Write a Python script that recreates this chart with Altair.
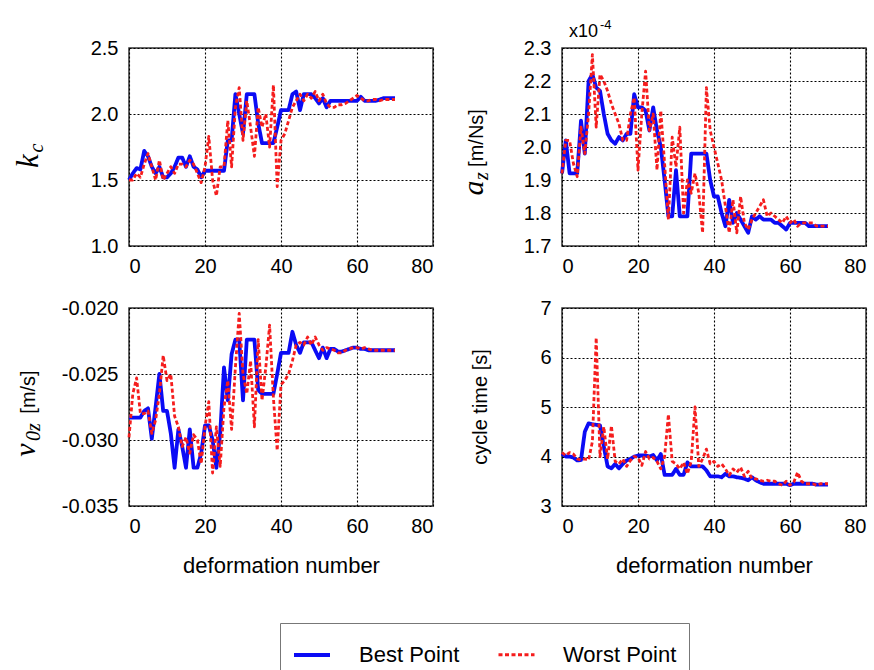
import altair as alt
import pandas as pd

# ---------------- data ----------------
N = list(range(71))
SERIES = ["Best Point", "Worst Point"]
COLORS = ["#0b0bf5", "#f51d1d"]

KC_BEST = [1.50, 1.55, 1.59, 1.58, 1.72, 1.68, 1.60, 1.55, 1.60, 1.52,
           1.52, 1.55, 1.60, 1.67, 1.67, 1.60, 1.68, 1.60, 1.58, 1.52,
           1.57, 1.57, 1.57, 1.57, 1.57, 1.57, 1.80, 1.80, 2.15, 2.00,
           1.85, 2.15, 2.15, 2.15, 1.93, 1.78, 1.78, 1.78, 1.78, 1.90,
           2.03, 2.03, 2.03, 2.15, 2.17, 2.03, 2.15, 2.15, 2.15, 2.12,
           2.08, 2.12, 2.05, 2.10, 2.10, 2.10, 2.10, 2.10, 2.10, 2.10,
           2.10, 2.13, 2.10, 2.10, 2.10, 2.10, 2.11, 2.12, 2.12, 2.12, 2.12]
KC_WORST = [1.50, 1.50, 1.55, 1.52, 1.62, 1.70, 1.60, 1.50, 1.65, 1.50,
            1.55, 1.60, 1.55, 1.62, 1.62, 1.60, 1.65, 1.62, 1.55, 1.48,
            1.60, 1.83, 1.50, 1.38, 1.60, 1.60, 1.95, 1.60, 2.05, 2.20,
            1.80, 2.10, 1.90, 1.68, 2.05, 1.90, 2.00, 1.75, 2.22, 1.45,
            1.80, 1.85, 1.95, 2.05, 2.10, 2.15, 2.10, 2.15, 2.12, 2.17,
            2.10, 2.15, 2.08, 2.05, 2.05, 2.07, 2.07, 2.08, 2.10, 2.12,
            2.14, 2.12, 2.10, 2.10, 2.11, 2.11, 2.10, 2.11, 2.11, 2.11, 2.11]

AZ_BEST = [1.92, 2.02, 1.92, 1.92, 1.92, 2.08, 1.98, 2.20, 2.22, 2.18,
           2.17, 2.10, 2.04, 2.02, 2.01, 2.03, 2.02, 2.04, 2.04, 2.16,
           2.12, 2.12, 2.11, 2.05, 2.12, 2.05, 2.00, 1.90, 1.79, 1.79,
           1.93, 1.79, 1.79, 1.79, 1.98, 1.98, 1.98, 1.98, 1.98, 1.90,
           1.85, 1.85, 1.80, 1.76, 1.84, 1.77, 1.80, 1.78, 1.76, 1.74,
           1.79, 1.78, 1.79, 1.78, 1.78, 1.78, 1.77, 1.77, 1.76, 1.75,
           1.77, 1.77, 1.77, 1.77, 1.77, 1.76, 1.76, 1.76, 1.76, 1.76, 1.76]
AZ_WORST = [1.92, 2.02, 2.02, 1.95, 1.91, 2.06, 1.98, 2.10, 2.28, 2.06,
            2.22, 2.20, 2.17, 2.13, 2.10, 2.07, 2.02, 2.02, 2.10, 2.15,
            1.93, 2.10, 2.23, 2.05, 2.10, 1.93, 2.11, 1.95, 1.78, 2.03,
            1.94, 2.06, 1.80, 1.90, 1.86, 1.92, 1.86, 1.74, 2.18, 2.05,
            2.00, 1.95, 1.90, 1.82, 1.74, 1.84, 1.74, 1.85, 1.77, 1.75,
            1.78, 1.80, 1.82, 1.84, 1.79, 1.80, 1.79, 1.78, 1.77, 1.79,
            1.77, 1.78, 1.76, 1.77, 1.77, 1.77, 1.77, 1.76, 1.76, 1.76, 1.76]

V0Z_BEST = [-0.0283, -0.0283, -0.0283, -0.0283, -0.0278, -0.0276, -0.0299, -0.0275, -0.0250, -0.0278,
            -0.0278, -0.0295, -0.0321, -0.0292, -0.0305, -0.0321, -0.0292, -0.0321, -0.0321, -0.0310,
            -0.0289, -0.0289, -0.0300, -0.0321, -0.0295, -0.0245, -0.0270, -0.0235, -0.0224, -0.0224,
            -0.0270, -0.0224, -0.0224, -0.0224, -0.0262, -0.0265, -0.0265, -0.0265, -0.0265, -0.0250,
            -0.0234, -0.0234, -0.0234, -0.0218, -0.0228, -0.0234, -0.0226, -0.0226, -0.0226, -0.0232,
            -0.0238, -0.0230, -0.0238, -0.0231, -0.0231, -0.0233, -0.0233, -0.0232, -0.0231, -0.0230,
            -0.0230, -0.0231, -0.0231, -0.0232, -0.0232, -0.0232, -0.0232, -0.0232, -0.0232, -0.0232, -0.0232]
V0Z_WORST = [-0.0298, -0.0265, -0.0253, -0.0280, -0.0280, -0.0278, -0.0295, -0.0285, -0.0265, -0.0236,
             -0.0255, -0.0250, -0.0282, -0.0290, -0.0305, -0.0298, -0.0310, -0.0296, -0.0300, -0.0318,
             -0.0290, -0.0271, -0.0325, -0.0290, -0.0320, -0.0275, -0.0255, -0.0292, -0.0245, -0.0204,
             -0.0250, -0.0265, -0.0240, -0.0290, -0.0224, -0.0270, -0.0245, -0.0213, -0.0268, -0.0308,
             -0.0258, -0.0255, -0.0250, -0.0240, -0.0228, -0.0226, -0.0228, -0.0222, -0.0228, -0.0222,
             -0.0228, -0.0232, -0.0230, -0.0231, -0.0232, -0.0234, -0.0234, -0.0232, -0.0231, -0.0230,
             -0.0230, -0.0231, -0.0230, -0.0231, -0.0232, -0.0232, -0.0232, -0.0232, -0.0232, -0.0232, -0.0232]

CT_BEST = [4.06, 4.00, 4.00, 3.98, 3.92, 3.93, 4.50, 4.67, 4.65, 4.64,
           4.63, 4.20, 3.80, 3.76, 3.85, 3.76, 3.85, 3.92, 3.95, 4.00,
           4.02, 4.02, 4.02, 4.00, 4.03, 3.92, 4.05, 3.63, 3.63, 3.63,
           3.75, 3.63, 3.63, 3.88, 3.80, 3.80, 3.80, 3.80, 3.72, 3.60,
           3.60, 3.60, 3.58, 3.65, 3.60, 3.60, 3.58, 3.57, 3.55, 3.52,
           3.58, 3.52, 3.48, 3.45, 3.45, 3.45, 3.45, 3.45, 3.45, 3.45,
           3.42, 3.45, 3.45, 3.45, 3.45, 3.45, 3.45, 3.43, 3.43, 3.43, 3.43]
CT_WORST = [4.08, 4.02, 4.08, 4.05, 3.95, 3.93, 3.95, 3.93, 4.30, 6.40,
            4.00, 4.60, 3.95, 4.62, 3.90, 3.85, 3.95, 3.80, 3.92, 4.00,
            3.98, 3.82, 4.10, 3.95, 3.98, 3.90, 3.75, 4.00, 4.85, 3.90,
            3.85, 3.75, 3.88, 3.65, 3.90, 5.00, 3.80, 3.95, 4.15, 3.85,
            3.90, 3.80, 3.85, 3.75, 3.62, 3.75, 3.68, 3.78, 3.60, 3.70,
            3.55, 3.55, 3.52, 3.50, 3.52, 3.50, 3.50, 3.45, 3.42, 3.50,
            3.42, 3.48, 3.68, 3.50, 3.45, 3.45, 3.45, 3.42, 3.45, 3.45, 3.45]

X_TICKS = [0, 20, 40, 60, 80]
KC_TICKS = [1.0, 1.5, 2.0, 2.5]
AZ_TICKS = [1.7, 1.8, 1.9, 2.0, 2.1, 2.2, 2.3]
V0Z_TICKS = [-0.035, -0.030, -0.025, -0.020]
CT_TICKS = [3, 4, 5, 6, 7]

X_TITLE = "deformation number"
KC_LABEL = ["k", "c"]
AZ_LABEL = ["a", "z", "[m/Ns]"]
V0Z_LABEL = ["v", "0z", "[m/s]"]
CT_LABEL = ["cycle time [s]"]
AZ_FACTOR = ["x10", "-4"]

# ---------------- helpers ----------------
SANS = "Liberation Sans"
SERIF = "Liberation Serif"
PW, PH = 304, 198


def long_df(best, worst):
    rows = []
    for s, vals in zip(SERIES, (best, worst)):
        for n, v in zip(N, vals):
            rows.append({"n": n, "v": v, "series": s})
    return pd.DataFrame(rows)


def text_layer(text, x, y, font, size, style="normal", angle=270, align="center"):
    return alt.Chart(pd.DataFrame({"t": [text]})).mark_text(
        angle=angle, align=align, baseline="alphabetic", font=font,
        fontSize=size, fontStyle=style, color="black"
    ).encode(text="t:N", x=alt.value(x), y=alt.value(y))


LEG = alt.Legend(
    title=None, orient="none", legendX=151, legendY=575, direction="horizontal",
    symbolType="stroke", symbolSize=1296, labelFont=SANS, labelFontSize=22,
    labelColor="black", labelOffset=27, columnPadding=32, padding=12,
    strokeColor="#777777",
)


def panel(best, worst, ydomain, yticks, yfmt, xtitle, extra):
    df = long_df(best, worst)
    xaxis = alt.Axis(values=X_TICKS, format="d", title=xtitle) if xtitle else \
        alt.Axis(values=X_TICKS, format="d", title=None)
    # plain hyphen-minus for negative tick labels, as in the reference
    yaxis = alt.Axis(
        values=yticks, title=None,
        labelExpr="(datum.value < 0 ? '-' : '') + format(abs(datum.value), '%s')" % yfmt,
    )
    lines = alt.Chart(df).mark_line(strokeJoin="round").encode(
        x=alt.X("n:Q", scale=alt.Scale(domain=[0, 80], nice=False), axis=xaxis),
        y=alt.Y("v:Q", scale=alt.Scale(domain=ydomain, nice=False, zero=False), axis=yaxis),
        color=alt.Color("series:O", scale=alt.Scale(domain=SERIES, range=COLORS), legend=LEG),
        strokeDash=alt.StrokeDash("series:O", scale=alt.Scale(domain=SERIES, range=[[1, 0], [4, 2.5]]), legend=LEG),
        strokeWidth=alt.StrokeWidth("series:O", scale=alt.Scale(domain=SERIES, range=[3.8, 2.8]), legend=LEG),
        order=alt.Order("n:Q"),
    )
    return alt.layer(lines, *extra).properties(width=PW, height=PH)


p1 = panel(KC_BEST, KC_WORST, [1.0, 2.5], KC_TICKS, ".1f", None, [
    text_layer(KC_LABEL[0], -91, 113, SERIF, 31, "italic"),
    text_layer(KC_LABEL[1], -86, 100, SERIF, 20, "italic"),
])
p2 = panel(AZ_BEST, AZ_WORST, [1.7, 2.3], AZ_TICKS, ".1f", None, [
    text_layer(AZ_LABEL[0], -79, 140, SERIF, 30, "italic"),
    text_layer(AZ_LABEL[1], -74, 128, SERIF, 20, "italic"),
    text_layer(AZ_LABEL[2], -79, 90, SANS, 20),
    text_layer(AZ_FACTOR[0], 7, -11, SANS, 18, angle=0, align="left"),
    text_layer(AZ_FACTOR[1], 38, -19, SANS, 13, angle=0, align="left"),
])
p3 = panel(V0Z_BEST, V0Z_WORST, [-0.035, -0.020], V0Z_TICKS, ".3f", X_TITLE, [
    text_layer(V0Z_LABEL[0], -94, 142, SERIF, 30, "italic"),
    text_layer(V0Z_LABEL[1], -89, 124, SERIF, 20, "italic"),
    text_layer(V0Z_LABEL[2], -94, 84, SANS, 20),
])
p4 = panel(CT_BEST, CT_WORST, [3, 7], CT_TICKS, "d", X_TITLE, [
    text_layer(CT_LABEL[0], -75, 99, SANS, 20),
])

chart = alt.concat(
    p1, p2, p3, p4, columns=2, spacing={"row": 62, "column": 129}, bounds="flush"
).properties(
    autosize=alt.AutoSizeParams(type="none"),
    padding={"left": 129, "top": 48, "right": 745, "bottom": 622},
    background="white",
).configure_view(
    stroke="#333333", strokeWidth=1.5
).configure_axis(
    domain=False, ticks=False, grid=True, gridColor="black", gridDash=[2, 2],
    gridWidth=1.1, gridOpacity=1, labelFont=SANS, labelFontSize=20, labelColor="black",
    titleFont=SANS, titleFontSize=22, titleFontWeight="normal", titleColor="black",
).configure_axisX(
    labelPadding=10, titlePadding=19
).configure_axisY(
    labelPadding=11
)

chart.save("out.html", embed_options={"renderer": "svg", "actions": False})
